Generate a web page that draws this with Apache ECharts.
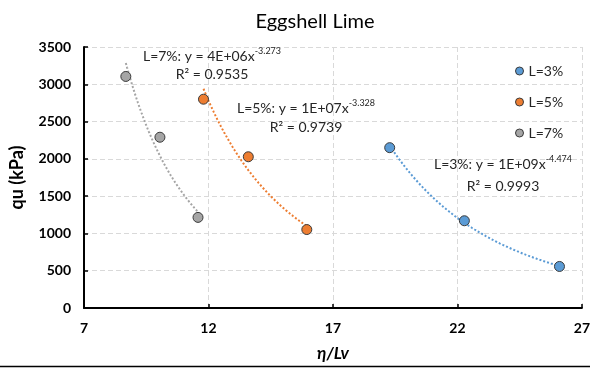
<!DOCTYPE html>
<html><head><meta charset="utf-8">
<script src="https://cdn.jsdelivr.net/npm/echarts@6/dist/echarts.min.js"></script>
<style>html,body{margin:0;padding:0;background:#fff}#c{width:593px;height:369px}</style>
</head><body><div id="c"></div>
<script>
// ---- data ----
const seriesNames = ['L=3%', 'L=5%', 'L=7%'];
const x3 = [19.28, 22.28, 26.1];
const y3 = [2150, 1170, 557];
const x5 = [11.8, 13.6, 15.95];
const y5 = [2800, 2028, 1052];
const x7 = [8.68, 10.05, 11.58];
const y7 = [3105, 2290, 1215];
const eqLines = ['L=3%: y = 1E+09x', 'L=5%: y = 1E+07x', 'L=7%: y = 4E+06x'];
const eqExp = ['-4.474', '-3.328', '-3.273'];
const r2Lines = ['R² = 0.9993', 'R² = 0.9739', 'R² = 0.9535'];
const xMin = 7, xMax = 27, xStep = 5;
const yMin = 0, yMax = 3500, yStep = 500;
const titleText = 'Eggshell Lime';
const xName = 'η/Lv';
const yName = 'qu (kPa)';

const colors = ['#5B9BD5', '#ED7D31', '#A5A5A5'];
const FONT = 'Lato, "Open Sans", sans-serif';

// power regression (as Excel trendline): ln y = ln a + b ln x
function powerFit(xs, ys) {
  const lx = xs.map(Math.log), ly = ys.map(Math.log);
  const n = xs.length;
  const mx = lx.reduce((s, v) => s + v, 0) / n, my = ly.reduce((s, v) => s + v, 0) / n;
  let sxy = 0, sxx = 0;
  for (let i = 0; i < n; i++) { sxy += (lx[i] - mx) * (ly[i] - my); sxx += (lx[i] - mx) ** 2; }
  const b = sxy / sxx, a = Math.exp(my - b * mx);
  const lo = Math.min(...xs), hi = Math.max(...xs);
  const pts = [];
  for (let i = 0; i <= 60; i++) { const x = lo + (hi - lo) * i / 60; pts.push([x, a * Math.pow(x, b)]); }
  return pts;
}

const sets = [[x3, y3], [x5, y5], [x7, y7]];
const series = [];
sets.forEach((s, k) => {
  series.push({
    name: seriesNames[k], type: 'line', data: powerFit(s[0], s[1]), showSymbol: false,
    smooth: false, silent: true, z: 2,
    lineStyle: { color: colors[k], width: 2, type: [2, 2] }, itemStyle: { color: colors[k] }
  });
});
sets.forEach((s, k) => {
  series.push({
    name: seriesNames[k], type: 'scatter', data: s[0].map((x, i) => [x, s[1][i]]),
    symbol: 'circle', symbolSize: 10, z: 5,
    itemStyle: { color: colors[k], borderColor: '#3b3b3b', borderWidth: 1, opacity: 1 }
  });
});

// equation label centres (pixels)
const eqPos = [[503, 163, 186], [306, 107, 127], [212, 55, 74]];
const graphics = [];
eqPos.forEach((p, k) => {
  graphics.push({
    type: 'text', x: p[0], y: p[1], z: 10,
    style: {
      text: '{n|' + eqLines[k] + '}{s|' + eqExp[k] + '}', align: 'center', verticalAlign: 'middle',
      rich: { n: { fontFamily: FONT, fontSize: 14, fill: '#262626', verticalAlign: 'bottom' },
              s: { fontFamily: FONT, fontSize: 9, fill: '#262626', verticalAlign: 'top', padding: [0, 0, 8, 0] } }
    }
  });
  graphics.push({
    type: 'text', x: p[0], y: p[2], z: 10,
    style: { text: r2Lines[k], align: 'center', verticalAlign: 'middle', fontFamily: FONT, fontSize: 14, fill: '#262626' }
  });
});
graphics.push({ type: 'line', shape: { x1: 0, y1: 366.5, x2: 590, y2: 366.5 }, style: { stroke: '#000', lineWidth: 1.5 } });

const chart = echarts.init(document.getElementById('c'));
chart.setOption({
  animation: false,
  backgroundColor: '#fff',
  title: { text: titleText, left: 310, top: 7, textAlign: 'center',
    textStyle: { fontFamily: FONT, fontSize: 20, fontWeight: 'normal', color: '#000' } },
  legend: {
    data: seriesNames.map(n => ({ name: n, icon: 'circle' })), orient: 'vertical', left: 510, top: 59,
    itemWidth: 8, itemHeight: 8, itemGap: 17,
    textStyle: { fontFamily: FONT, fontSize: 14, color: '#262626' },
    itemStyle: { borderColor: '#3b3b3b', borderWidth: 1 }
  },
  grid: { left: 83, right: 9, top: 47, bottom: 61 },
  xAxis: {
    type: 'value', min: xMin, max: xMax, interval: xStep,
    name: xName, nameLocation: 'middle', nameGap: 37,
    nameTextStyle: { fontFamily: FONT, fontSize: 17, fontWeight: 'bold', fontStyle: 'italic', color: '#000' },
    axisLine: { show: true, onZero: false, lineStyle: { color: '#000', width: 2 } },
    axisTick: { show: true, inside: true, length: 4, lineStyle: { color: '#000', width: 1.5 } },
    axisLabel: { fontFamily: FONT, fontSize: 14, fontWeight: 'bold', color: '#000', margin: 13 },
    splitLine: { show: true, lineStyle: { color: '#D9D9D9', type: [5, 3], width: 1 } }
  },
  yAxis: {
    type: 'value', min: yMin, max: yMax, interval: yStep,
    name: yName, nameLocation: 'middle', nameGap: 58, nameRotate: 90,
    nameTextStyle: { fontFamily: FONT, fontSize: 18, fontWeight: 'bold', color: '#000' },
    axisLine: { show: true, lineStyle: { color: '#000', width: 2 } },
    axisTick: { show: true, inside: true, length: 4, lineStyle: { color: '#000', width: 1.5 } },
    axisLabel: { fontFamily: FONT, fontSize: 14, fontWeight: 'bold', color: '#000', margin: 13,
      formatter: v => String(v) },
    splitLine: { show: true, lineStyle: { color: '#D9D9D9', type: [5, 3], width: 1 } }
  },
  series: series,
  graphic: graphics
});
</script></body></html>
